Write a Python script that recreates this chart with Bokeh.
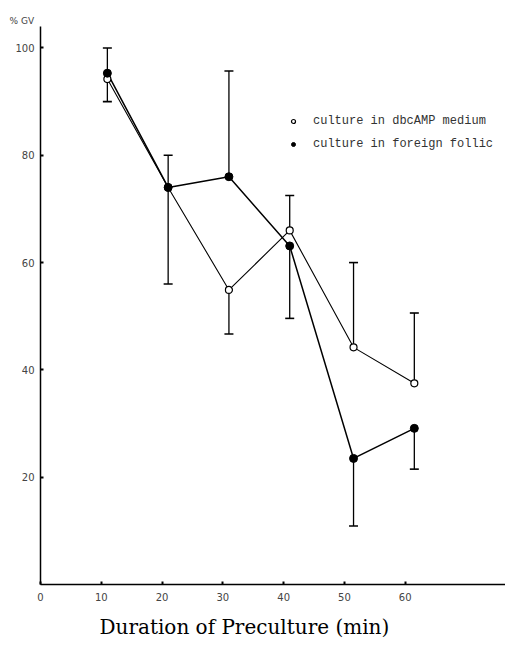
import math
from bokeh.plotting import figure
from bokeh.models import Range1d, FixedTicker, Legend, LegendItem, Title
from bokeh.embed import file_html
from bokeh.resources import INLINE

# ---- data ----
durations = [11, 21, 31, 41, 51.5, 61.5]
dbcamp_medium = [94.2, 74.0, 54.9, 66.0, 44.2, 37.5]
foreign_follicle = [95.3, 74.0, 76.0, 63.1, 23.5, 29.1]
nan = float("nan")
dbcamp_err_hi = [nan, nan, nan, 72.5, 60.0, 50.6]
dbcamp_err_lo = [nan, nan, 46.7, nan, nan, nan]
foreign_err_hi = [100.0, 80.0, 95.7, nan, nan, nan]
foreign_err_lo = [90.0, 56.0, nan, 49.6, 10.9, 21.5]
x_ticks = [0, 10, 20, 30, 40, 50, 60]
y_ticks = [20, 40, 60, 80, 100]

p = figure(width=505, height=647, output_backend="svg", toolbar_location=None,
           x_range=Range1d(0, 76.5), y_range=Range1d(0, 104.0),
           min_border_left=40, min_border_right=0, min_border_top=26,
           min_border_bottom=63)
p.outline_line_color = None
p.xgrid.grid_line_color = None
p.ygrid.grid_line_color = None

for ax, ticks in ((p.xaxis, x_ticks), (p.yaxis, y_ticks)):
    ax.ticker = FixedTicker(ticks=ticks)
    ax.axis_line_color = "black"
    ax.axis_line_width = 1.5
    ax.major_tick_in = 3
    ax.major_tick_out = 0
    ax.major_tick_line_width = 2
    ax.minor_tick_line_color = None
    ax.major_label_text_font = "DejaVu Sans"
    ax.major_label_text_font_size = "10px"
    ax.major_label_text_color = "#444444"
p.xaxis.major_label_standoff = 8
p.yaxis.major_label_standoff = 6

# error bars
def add_errors(vals, hi, lo):
    xs0, ys0, ys1, cx, cy = [], [], [], [], []
    for x, v, h, l in zip(durations, vals, hi, lo):
        if not math.isnan(h):
            xs0.append(x); ys0.append(v); ys1.append(h); cx.append(x); cy.append(h)
        if not math.isnan(l):
            xs0.append(x); ys0.append(v); ys1.append(l); cx.append(x); cy.append(l)
    p.segment(x0=xs0, y0=ys0, x1=xs0, y1=ys1, line_color="black", line_width=1.3)
    p.scatter(cx, cy, marker="dash", size=9, line_color="black", line_width=1.6)

p.line(durations, dbcamp_medium, line_color="black", line_width=1.1)
p.line(durations, foreign_follicle, line_color="black", line_width=1.5)
add_errors(dbcamp_medium, dbcamp_err_hi, dbcamp_err_lo)
add_errors(foreign_follicle, foreign_err_hi, foreign_err_lo)
r_open = p.scatter(durations, dbcamp_medium, size=7, fill_color="white",
                   line_color="black", line_width=1.2)
r_fill = p.scatter(durations, foreign_follicle, size=8, fill_color="black",
                   line_color="black")

legend = Legend(items=[LegendItem(label="culture in dbcAMP medium", renderers=[r_open]),
                       LegendItem(label="culture in foreign follic", renderers=[r_fill])],
                location=(248, 430))
legend.border_line_color = None
legend.background_fill_alpha = 0
legend.padding = 0
legend.margin = 0
legend.spacing = 3
legend.label_height = 20
legend.glyph_height = 20
legend.glyph_width = 10
legend.label_standoff = 15
legend.label_text_font = "Liberation Mono"
legend.label_text_font_size = "12px"
legend.label_text_color = "#333333"
p.add_layout(legend)

p.add_layout(Title(text="% GV", align="left", offset=-31, standoff=2,
                   text_font="DejaVu Sans", text_font_size="9px",
                   text_font_style="normal", text_color="#444444"), "above")
p.add_layout(Title(text="Duration of Preculture (min)", align="left", offset=59,
                   standoff=18, text_font="DejaVu Serif", text_font_size="20px",
                   text_font_style="normal", text_color="black"), "below")

open("out.html", "w").write(file_html(p, INLINE))
